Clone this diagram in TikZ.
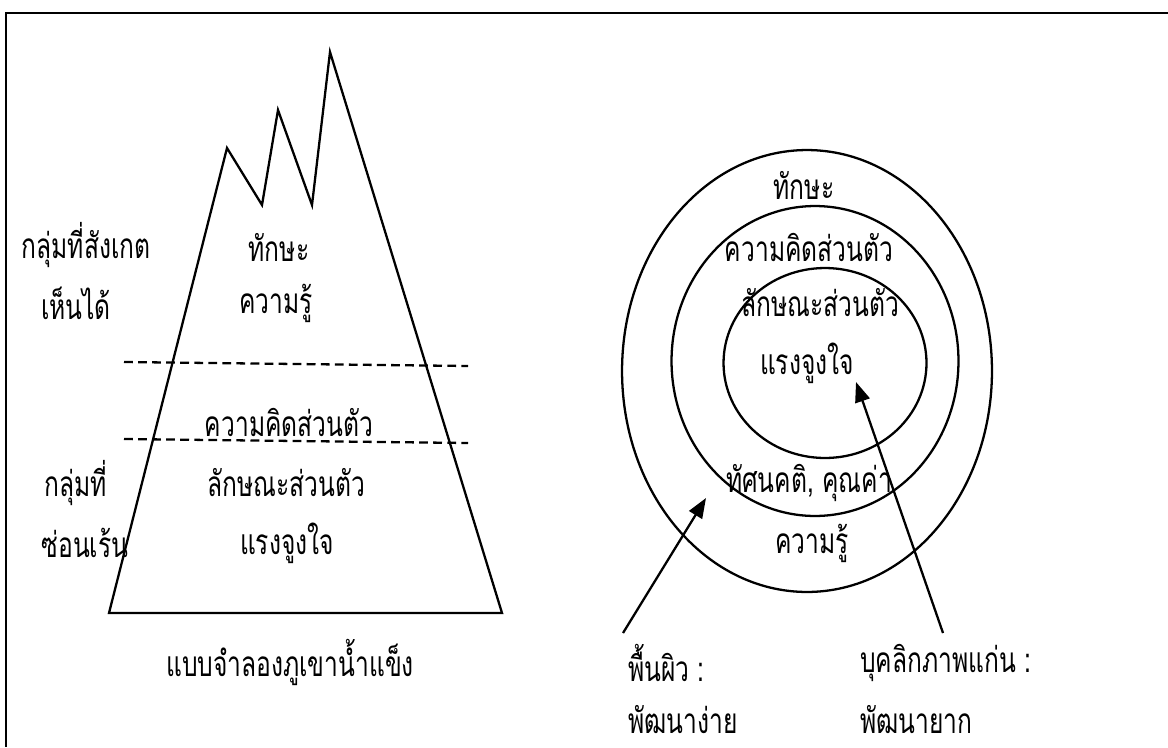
\documentclass[tikz,border=0pt]{standalone}
\usepackage{fontspec}
\newfontfamily\thaifont[Script=Thai,FakeStretch=0.7]{Loma}
\usetikzlibrary{arrows.meta}
\tikzset{
    outline/.style={line width=1.3pt},
    label/.style={font=\thaifont\fontsize{20}{22}\selectfont, inner sep=0pt},
    pointer/.style={line width=1.3pt, -{Triangle[length=0.40cm,width=0.30cm]}}
}
\begin{document}
\begin{tikzpicture}[x=0.02cm,y=-0.02cm]
\useasboundingbox (0,0) rectangle (1168,747);

% Frame (top and left edges)
\draw[outline] (1168,13) -- (6,13) -- (6,747);

% Draw the iceberg
\draw[outline,line join=miter] (109,613) -- (227,148) -- (262,205) -- (278,110)
    -- (312,205) -- (330,52) -- (502,613) -- cycle;

% Water lines
\draw[outline,dash pattern=on 5pt off 3pt] (124,362) -- (468,366);
\draw[outline,dash pattern=on 5pt off 3pt] (124,439) -- (468,443);

% Iceberg labels
\node[label] (seenA) at (86,245) {กลุ่มที่สังเกต};
\node[label] (seenB) at (76,303) {เห็นได้};
\node[label] (hidA) at (76,483) {กลุ่มที่};
\node[label] (hidB) at (85,543) {ซ่อนเร้น};
\node[label] (iSkill) at (279,247) {ทักษะ};
\node[label] (iKnow) at (276,303) {ความรู้};
\node[label] (iSelf) at (289,422) {ความคิดส่วนตัว};
\node[label] (iTrait) at (286,483) {ลักษณะส่วนตัว};
\node[label] (iMotive) at (287,543) {แรงจูงใจ};
\node[label] (iTitle) at (290,662) {แบบจำลองภูเขาน้ำแข็ง};

% Concentric rings
\draw[outline] (807,371) ellipse [x radius=3.70cm, y radius=4.42cm];
\draw[outline] (815,361) ellipse [x radius=2.87cm, y radius=3.10cm];
\draw[outline] (825,363) ellipse [x radius=2.03cm, y radius=1.90cm];

% Ring labels
\node[label] (cSkill) at (804,185) {ทักษะ};
\node[label] (cSelf) at (809,247) {ความคิดส่วนตัว};
\node[label] (cTrait) at (820,303) {ลักษณะส่วนตัว};
\node[label] (cMotive) at (807,363) {แรงจูงใจ};
\node[label] (cValue) at (809,483) {ทัศนคติ, คุณค่า};
\node[label] (cKnow) at (812,543) {ความรู้};

% Pointers
\coordinate (surfFoot) at (623,633);
\coordinate (surfTip) at (706,498);
\coordinate (coreFoot) at (943,633);
\coordinate (coreTip) at (856,382);
\draw[pointer] (surfFoot) -- (surfTip);
\draw[pointer] (coreFoot) -- (coreTip);

\node[label,anchor=west] (surfA) at (628,663) {พื้นผิว :};
\node[label,anchor=west] (surfB) at (628,720) {พัฒนาง่าย};
\node[label,anchor=west] (coreA) at (860,663) {บุคลิกภาพแก่น :};
\node[label,anchor=west] (coreB) at (860,720) {พัฒนายาก};
\end{tikzpicture}
\end{document}
